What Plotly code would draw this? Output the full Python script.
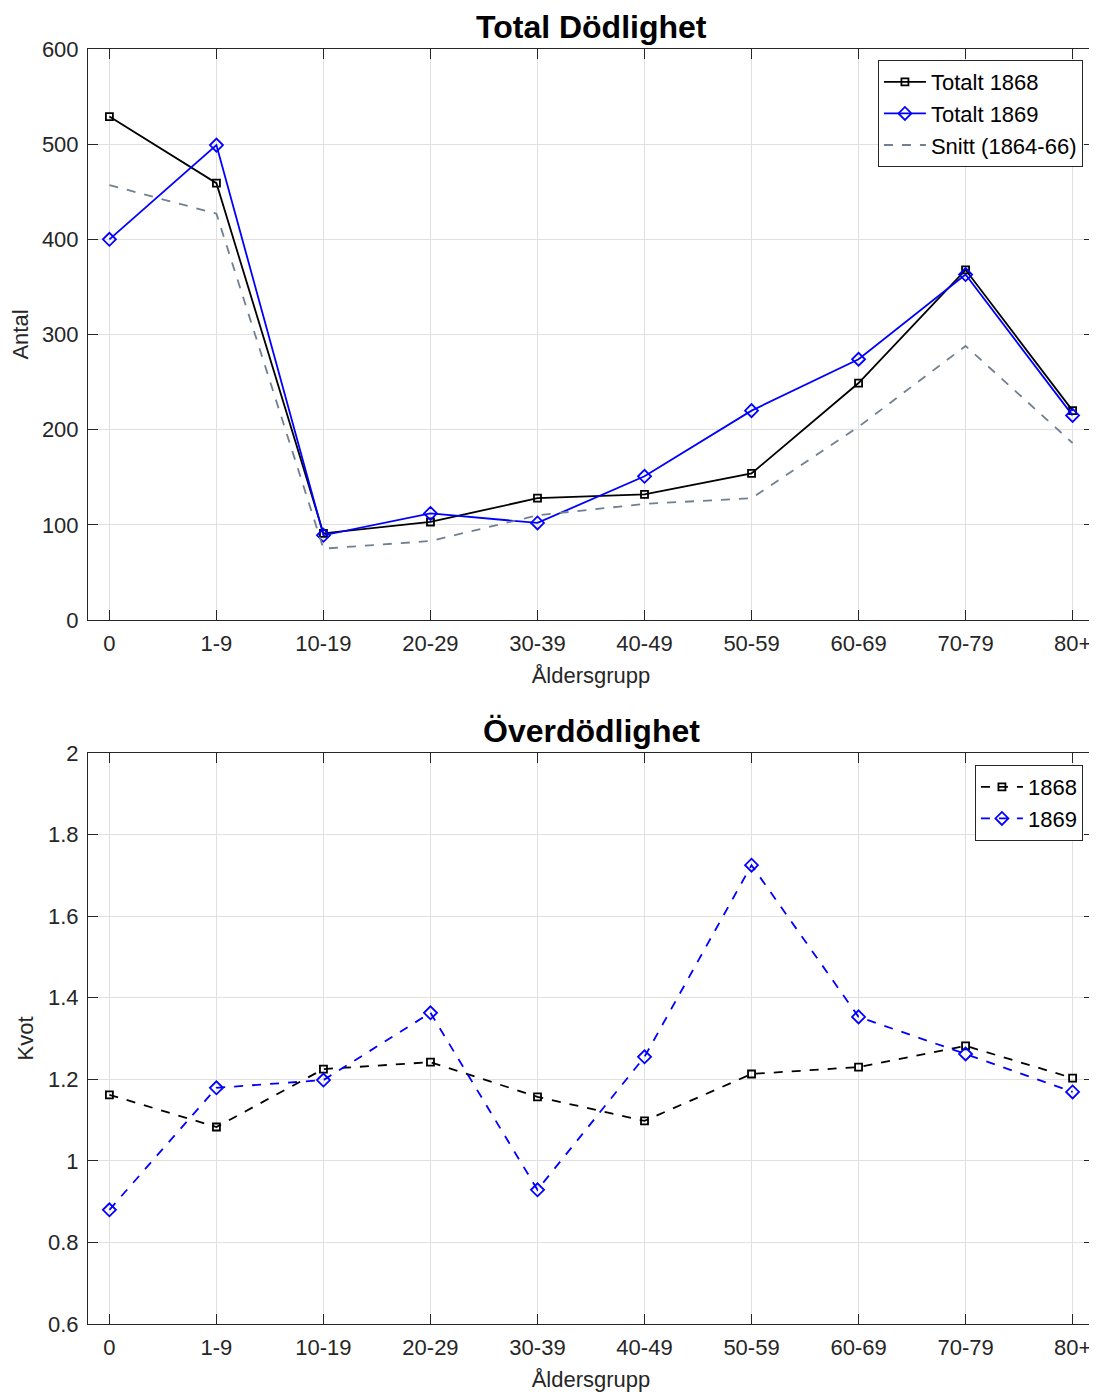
import plotly.graph_objects as go
from plotly.subplots import make_subplots

categories = ["0", "1-9", "10-19", "20-29", "30-39", "40-49", "50-59", "60-69", "70-79", "80+"]
totalt_1868 = [529, 459, 91, 103, 128, 132, 154, 249, 368, 220]
totalt_1869 = [400, 499, 89, 112, 102, 151, 220, 274, 363, 215]
snitt_1864_66 = [457, 427, 75, 83, 110, 122, 128, 203, 288, 186]
kvot_1868 = [1.162, 1.083, 1.225, 1.242, 1.157, 1.098, 1.213, 1.230, 1.282, 1.203]
kvot_1869 = [0.880, 1.179, 1.198, 1.363, 0.929, 1.255, 1.725, 1.353, 1.262, 1.169]

xs = list(range(len(categories)))
FONT = "Liberation Sans, Arial, sans-serif"
AX = "#262626"
GRID = "#e0e0e0"
LW = 1.8

fig = make_subplots(rows=2, cols=1, vertical_spacing=0.1)

fig.add_trace(go.Scatter(x=xs, y=totalt_1868, name="Totalt 1868", mode="lines+markers",
                         line=dict(color="black", width=LW),
                         marker=dict(symbol="square-open", size=7, color="black", line=dict(width=1.8)),
                         legend="legend"), row=1, col=1)
fig.add_trace(go.Scatter(x=xs, y=totalt_1869, name="Totalt 1869", mode="lines+markers",
                         line=dict(color="blue", width=LW),
                         marker=dict(symbol="diamond-open", size=10, color="blue", line=dict(width=1.8)),
                         legend="legend"), row=1, col=1)
fig.add_trace(go.Scatter(x=xs, y=snitt_1864_66, name="Snitt (1864-66)", mode="lines",
                         line=dict(color="#708090", width=LW, dash="dash"),
                         legend="legend"), row=1, col=1)

fig.add_trace(go.Scatter(x=xs, y=kvot_1868, name="1868", mode="lines+markers",
                         line=dict(color="black", width=LW, dash="dash"),
                         marker=dict(symbol="square-open", size=7, color="black", line=dict(width=1.8)),
                         legend="legend2"), row=2, col=1)
fig.add_trace(go.Scatter(x=xs, y=kvot_1869, name="1869", mode="lines+markers",
                         line=dict(color="blue", width=LW, dash="dash"),
                         marker=dict(symbol="diamond-open", size=10, color="blue", line=dict(width=1.8)),
                         legend="legend2"), row=2, col=1)

axis_common = dict(showline=True, linecolor=AX, linewidth=1, mirror="ticks",
                   ticks="inside", ticklen=10, tickcolor=AX, tickwidth=1,
                   showgrid=True, gridcolor=GRID, gridwidth=1, zeroline=False,
                   tickfont=dict(family=FONT, size=22, color=AX),
                   title_font=dict(family=FONT, size=22, color=AX))

top_dom = [(1324 - 620) / 1275, 1.0]
bot_dom = [0.0, (1324 - 753) / 1275]

fig.update_xaxes(**axis_common, range=[-0.2, 9.2], tickmode="array", tickvals=xs,
                 ticktext=categories, title_text="Åldersgrupp", title_standoff=12,
                 ticklabelstandoff=4)
fig.update_yaxes(**axis_common, ticklabelstandoff=4)
fig.update_yaxes(range=[0, 600], dtick=100, title_text="Antal", title_standoff=8,
                 domain=top_dom, row=1, col=1)
fig.update_yaxes(range=[0.6, 2], dtick=0.2, tickformat="~g", title_text="Kvot", title_standoff=8,
                 domain=bot_dom, row=2, col=1)

fig.update_layout(
    width=1089, height=1385,
    margin=dict(l=80, r=3, t=41, b=69),
    paper_bgcolor="white", plot_bgcolor="white",
    font=dict(family=FONT, size=22, color="black"),
    annotations=[
        dict(text="<b>Total Dödlighet</b>", x=0.5, xref="paper", y=(1324 - 27) / 1275, yref="paper",
             showarrow=False, font=dict(family=FONT, size=32, color="black"), yanchor="middle"),
        dict(text="<b>Överdödlighet</b>", x=0.5, xref="paper", y=(1324 - 731) / 1275, yref="paper",
             showarrow=False, font=dict(family=FONT, size=32, color="black"), yanchor="middle"),
    ],
    legend=dict(x=0.989, y=(1324 - 60) / 1275, xanchor="right", yanchor="top",
                bgcolor="white", bordercolor=AX, borderwidth=1,
                font=dict(family=FONT, size=22, color="black"),
                tracegroupgap=0, itemwidth=42),
    legend2=dict(x=0.989, y=(1324 - 765) / 1275, xanchor="right", yanchor="top",
                 bgcolor="white", bordercolor=AX, borderwidth=1,
                 font=dict(family=FONT, size=22, color="black"),
                 tracegroupgap=0, itemwidth=42),
    showlegend=True,
)

fig.write_html("out.html")
